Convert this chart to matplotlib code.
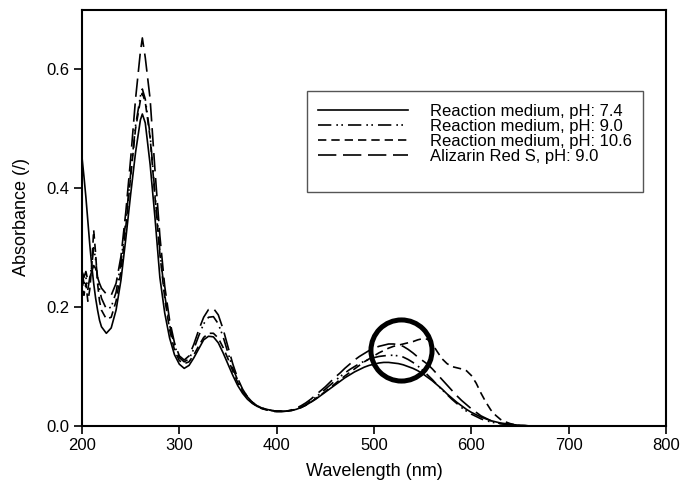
import matplotlib
matplotlib.use("Agg")
import matplotlib.pyplot as plt
from matplotlib.patches import Rectangle

plt.rcParams['font.family'] = ['Liberation Sans', 'DejaVu Sans']
plt.rcParams['mathtext.fontset'] = 'custom'
plt.rcParams['mathtext.it'] = 'Liberation Sans:italic'
plt.rcParams['mathtext.rm'] = 'Liberation Sans'

wavelength = [200, 202, 204, 206, 208, 210, 212, 214, 216, 218, 220, 225, 230, 235, 240, 245, 250, 255,
              260, 262, 265, 270, 275, 280, 285, 290, 295, 300, 305, 310, 315, 320, 325, 330, 335, 340,
              345, 350, 355, 360, 365, 370, 375, 380, 385, 390, 395, 400, 405, 410, 415, 420, 425, 430,
              435, 440, 445, 450, 455, 460, 465, 470, 475, 480, 485, 490, 495, 500, 505, 510, 515, 520,
              525, 530, 535, 540, 545, 550, 555, 560, 565, 570, 575, 580, 585, 590, 595, 600, 605, 610,
              615, 620, 625, 630, 635, 640, 645, 650, 655, 660, 700, 750, 800]

rm_ph74 = [0.452, 0.42, 0.385, 0.345, 0.305, 0.27, 0.24, 0.215, 0.195, 0.178, 0.167, 0.156, 0.165, 0.195, 0.245, 0.315, 0.39, 0.46,
           0.515, 0.525, 0.51, 0.44, 0.35, 0.25, 0.19, 0.148, 0.12, 0.104, 0.097, 0.102, 0.115, 0.13, 0.145, 0.151, 0.15, 0.14,
           0.123, 0.104, 0.085, 0.068, 0.055, 0.045, 0.038, 0.033, 0.030, 0.028, 0.026, 0.025, 0.025, 0.025, 0.026, 0.028, 0.031, 0.035,
           0.040, 0.045, 0.051, 0.057, 0.063, 0.069, 0.075, 0.081, 0.086, 0.091, 0.095, 0.099, 0.102, 0.104, 0.106, 0.107, 0.107, 0.106,
           0.105, 0.103, 0.100, 0.097, 0.093, 0.088, 0.082, 0.076, 0.069, 0.062, 0.054, 0.047, 0.040, 0.034, 0.028, 0.023, 0.019, 0.015,
           0.012, 0.009, 0.007, 0.005, 0.004, 0.003, 0.002, 0.001, 0.001, 0.0, 0.0, 0.0, 0.0]

rm_ph90 = [0.26, 0.24, 0.25, 0.23, 0.25, 0.27, 0.30, 0.28, 0.25, 0.23, 0.215, 0.197, 0.20, 0.225, 0.275, 0.345, 0.425, 0.505,
           0.555, 0.567, 0.55, 0.49, 0.39, 0.295, 0.22, 0.17, 0.135, 0.115, 0.108, 0.113, 0.13, 0.152, 0.172, 0.183, 0.184, 0.172,
           0.15, 0.123, 0.097, 0.077, 0.061, 0.049, 0.04, 0.034, 0.03, 0.028, 0.026, 0.025, 0.025, 0.025, 0.026, 0.029, 0.032, 0.036,
           0.042, 0.048, 0.055, 0.062, 0.069, 0.076, 0.083, 0.089, 0.095, 0.1, 0.105, 0.109, 0.112, 0.115, 0.117, 0.118, 0.119, 0.119,
           0.118, 0.116, 0.112, 0.107, 0.101, 0.094, 0.086, 0.078, 0.069, 0.061, 0.053, 0.045, 0.038, 0.031, 0.025, 0.02, 0.016, 0.012,
           0.009, 0.007, 0.005, 0.004, 0.003, 0.002, 0.001, 0.001, 0.0, 0.0, 0.0, 0.0, 0.0]

rm_ph106 = [0.25, 0.22, 0.24, 0.21, 0.23, 0.27, 0.33, 0.29, 0.24, 0.21, 0.195, 0.18, 0.183, 0.21, 0.26, 0.335, 0.42, 0.50,
            0.548, 0.56, 0.545, 0.485, 0.385, 0.29, 0.215, 0.162, 0.128, 0.11, 0.105, 0.108, 0.12, 0.135, 0.149, 0.156, 0.156, 0.148,
            0.132, 0.113, 0.092, 0.073, 0.058, 0.047, 0.039, 0.033, 0.029, 0.027, 0.026, 0.025, 0.025, 0.025, 0.026, 0.028, 0.031, 0.035,
            0.040, 0.046, 0.052, 0.058, 0.065, 0.071, 0.078, 0.084, 0.090, 0.096, 0.102, 0.108, 0.113, 0.118, 0.123, 0.127, 0.131, 0.134,
            0.136, 0.138, 0.14, 0.142, 0.145, 0.147, 0.146, 0.138, 0.125, 0.113, 0.105, 0.10, 0.098, 0.096, 0.093, 0.085, 0.072, 0.055,
            0.04, 0.027, 0.018, 0.011, 0.007, 0.004, 0.002, 0.001, 0.0005, 0.0, 0.0, 0.0, 0.0]

ars_ph90 = [0.26, 0.25, 0.26, 0.245, 0.25, 0.26, 0.27, 0.265, 0.25, 0.24, 0.232, 0.222, 0.22, 0.24, 0.285, 0.36, 0.45, 0.55,
            0.63, 0.653, 0.62, 0.55, 0.43, 0.32, 0.235, 0.178, 0.14, 0.118, 0.111, 0.118, 0.138, 0.162, 0.183, 0.196, 0.198, 0.187,
            0.163, 0.133, 0.104, 0.08, 0.062, 0.049, 0.04, 0.034, 0.03, 0.027, 0.025, 0.024, 0.024, 0.025, 0.027, 0.03, 0.034, 0.039,
            0.045, 0.052, 0.059, 0.066, 0.074, 0.082, 0.089, 0.097, 0.104, 0.111, 0.117, 0.122, 0.127, 0.131, 0.134, 0.136, 0.138, 0.138,
            0.137, 0.134, 0.129, 0.123, 0.116, 0.11, 0.104, 0.096, 0.087, 0.078, 0.069, 0.06, 0.051, 0.043, 0.036, 0.029, 0.023, 0.017,
            0.013, 0.009, 0.006, 0.004, 0.003, 0.002, 0.001, 0.001, 0.0, 0.0, 0.0, 0.0, 0.0]

labels = ["Reaction medium, pH: 7.4", "Reaction medium, pH: 9.0",
          "Reaction medium, pH: 10.6", "Alizarin Red S, pH: 9.0"]

circle_center_x = [528]
circle_center_y = [0.128]

x_ticks = [200, 300, 400, 500, 600, 700, 800]
y_ticks = [0.0, 0.2, 0.4, 0.6]

fig = plt.figure(figsize=(6.81, 4.92), dpi=100)
ax = fig.add_axes([82/681, 1 - 426/492, 584/681, 416/492])

styles = ['-', (0, (8, 3, 1, 2, 1, 3)), (0, (5, 3)), (0, (11, 4))]
series = [rm_ph74, rm_ph90, rm_ph106, ars_ph90]
for ys, ls, lab in zip(series, styles, labels):
    ax.plot(wavelength, ys, color='black', linestyle=ls, linewidth=1.2, label=lab)

ax.plot(circle_center_x, circle_center_y, marker='o', markersize=44, markerfacecolor='none',
        markeredgecolor='black', markeredgewidth=3.6, linestyle='none')

ax.set_xlim(200, 800)
ax.set_ylim(0, 0.7)
ax.set_xticks(x_ticks)
ax.set_yticks(y_ticks)
ax.set_yticklabels([f"{v:.1f}" for v in y_ticks])
ax.tick_params(direction='out', length=6, width=1.2, labelsize=12, pad=3, colors='black')
for sp in ax.spines.values():
    sp.set_linewidth(1.5)

ax.set_xlabel("Wavelength (nm)", fontsize=13, labelpad=7)
ax.set_ylabel("Absorbance ($\\mathit{/}$)", fontsize=13, labelpad=10)

# legend box
ax.add_patch(Rectangle(((307 - 82)/584, (426 - 192)/416), (643 - 307)/584, (192 - 91)/416,
                       transform=ax.transAxes, facecolor='white', edgecolor='#555555', linewidth=1.0, zorder=3))
leg = ax.legend(loc='upper left', bbox_to_anchor=((318 - 82)/584, (426 - 104)/416), frameon=False,
                fontsize=12, handlelength=5.4, handletextpad=1.35, labelspacing=0.0, borderpad=0,
                borderaxespad=0)
leg.set_zorder(4)

fig.savefig("out.png", dpi=100)
